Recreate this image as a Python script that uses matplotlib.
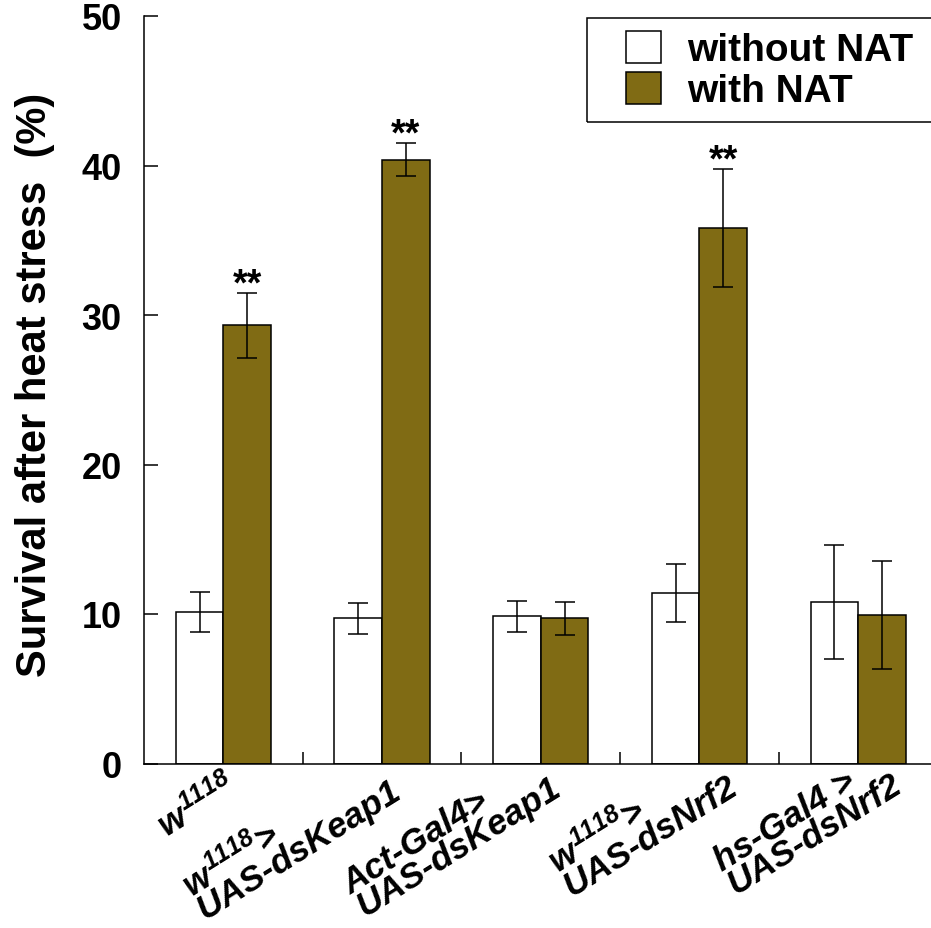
import matplotlib
matplotlib.use('Agg')
import matplotlib.pyplot as plt
import matplotlib.transforms as mtransforms
from matplotlib.patches import Rectangle
import numpy as np

# Survival data, mean and SEM per genotype
genotypes = [r'$w^{1118}$',
             '$w^{1118}$>\nUAS-dsKeap1',
             'Act-Gal4>\nUAS-dsKeap1',
             '$w^{1118}$>\nUAS-dsNrf2',
             'hs-Gal4 >\nUAS-dsNrf2']
without_nat = [10.15, 9.7, 9.85, 11.4, 10.8]
without_err = [1.35, 1.05, 1.05, 1.95, 3.8]
with_nat = [29.3, 40.4, 9.7, 35.8, 9.95]
with_err = [2.15, 1.1, 1.1, 3.95, 3.6]
signif = ['**', '**', '', '**', '']

plt.rcParams['font.family'] = 'Liberation Sans'
plt.rcParams['font.weight'] = 'bold'
plt.rcParams['mathtext.fontset'] = 'custom'
plt.rcParams['mathtext.rm'] = 'Liberation Sans:italic:bold'
plt.rcParams['mathtext.it'] = 'Liberation Sans:italic:bold'
plt.rcParams['mathtext.bf'] = 'Liberation Sans:italic:bold'

brown = '#806b14'
dpi = 100
fig = plt.figure(figsize=(9.31, 9.29), dpi=dpi)
ax = fig.add_axes([144 / 931, 1 - 764.5 / 929, (937.5 - 144) / 931, (764.5 - 17) / 929])

x = np.arange(len(genotypes))
w = 0.3
err_kw = dict(ecolor='black', elinewidth=1.1, capsize=7.2, capthick=1.1)
ax.bar(x - w / 2, without_nat, w, yerr=without_err, color='white', edgecolor='black',
       linewidth=1.1, error_kw=err_kw, label='without NAT', zorder=2)
ax.bar(x + w / 2, with_nat, w, yerr=with_err, color=brown, edgecolor='black',
       linewidth=1.1, error_kw=err_kw, label='with NAT', zorder=2)

# significance stars above error bars
for i, s in enumerate(signif):
    if s:
        ax.text(x[i] + w / 2, with_nat[i] + with_err[i] - 0.1, s, ha='center', va='baseline',
                fontsize=27, fontweight='bold')

ax.set_xlim(-0.5, 4.5)
ax.set_ylim(0, 50)
ax.set_yticks([0, 10, 20, 30, 40, 50])
ax.tick_params(axis='y', direction='in', length=10, width=1.1, pad=16, labelsize=26)
ax.set_xticks([0.5, 1.5, 2.5, 3.5])
ax.set_xticklabels([])
ax.tick_params(axis='x', direction='in', length=8.6, width=1.1)
for side in ['top', 'right']:
    ax.spines[side].set_visible(False)
for side in ['left', 'bottom']:
    ax.spines[side].set_linewidth(1.1)

# genotype labels, rotated, anchored at the lower right
label_off = [(20, -34), (25, -38), (26, -35), (44, -33), (50, -31)]
base = ax.get_xaxis_transform()
for i, lab in enumerate(genotypes):
    dx, dy = label_off[i]
    tr = mtransforms.offset_copy(base, fig=fig, x=dx, y=dy, units='dots')
    ax.text(x[i], 0, lab, transform=tr, rotation=32, rotation_mode='anchor',
            ha='right', va='bottom', multialignment='left', linespacing=0.75,
            fontsize=25.5, fontweight='bold', fontstyle='italic')

ax.set_ylabel('Survival after heat stress  (%)', fontsize=30, fontweight='bold')
ax.yaxis.set_label_coords(-0.112, 0.508)

leg = fig.legend(loc='upper left', bbox_to_anchor=(626 / 931, 1 - 32 / 929), frameon=False,
                 fontsize=28, handlelength=0.9, handleheight=0.87, handletextpad=0.68,
                 labelspacing=0.1, borderpad=0, borderaxespad=0)
for t in leg.get_texts():
    t.set_fontweight('bold')
fig.patches.append(Rectangle((587 / 931, 1 - 123.3 / 929), 0.5, (123.3 - 18.7) / 929,
                             transform=fig.transFigure, fill=False, edgecolor='black',
                             linewidth=1.1))

fig.savefig('out.png', dpi=dpi)
